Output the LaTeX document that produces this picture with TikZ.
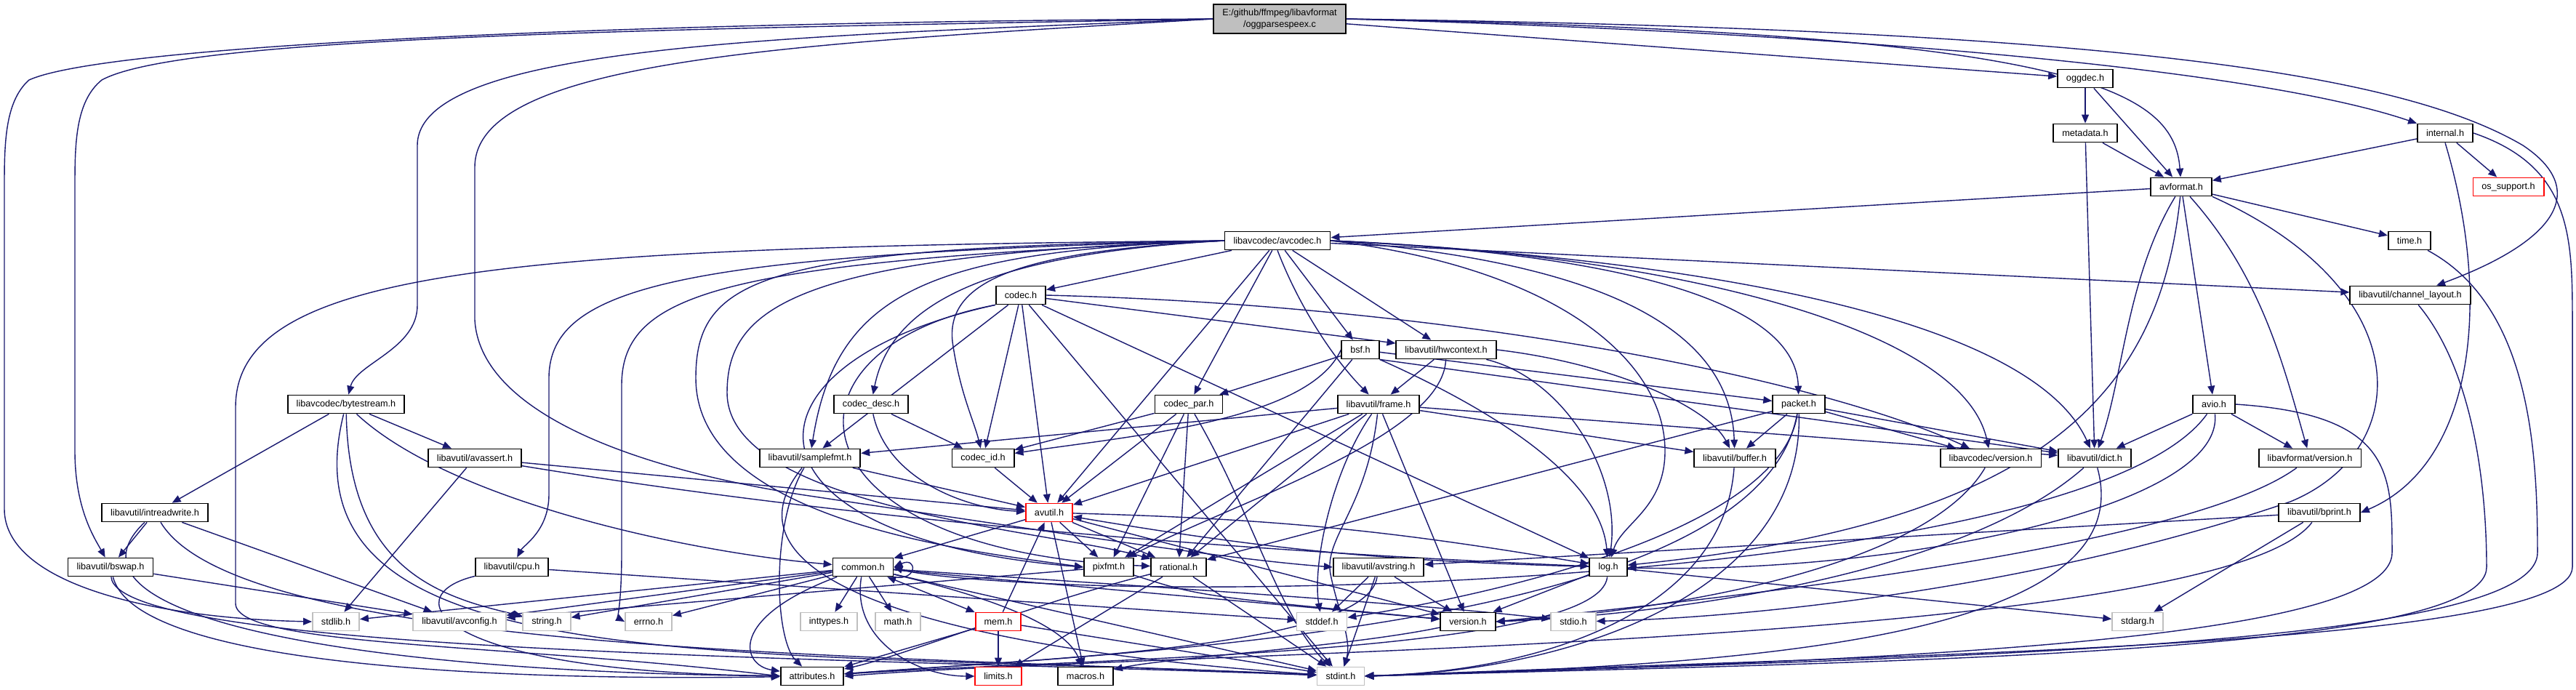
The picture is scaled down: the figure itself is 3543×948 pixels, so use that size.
\documentclass[tikz,border=0pt]{standalone}
\usepackage{fontspec}
\usetikzlibrary{arrows.meta}
\newfontfamily\doxfont{Liberation Sans}
\definecolor{edgeblue}{HTML}{191970}
\definecolor{sysgray}{HTML}{BFBFBF}
\definecolor{rootgray}{HTML}{BFBFBF}
\pgfdeclarelayer{edges}
\pgfsetlayers{edges,main}

\begin{document}
\begin{tikzpicture}[x=0.01cm, y=-0.01cm,
    hdr/.style={draw=black, fill=white, line width=0.5pt, inner xsep=0.12cm, inner ysep=0pt,
      minimum height=0.25cm, font=\doxfont\fontsize{3.6}{4.4}\selectfont},
    sys/.style={hdr, draw=sysgray},
    trunc/.style={hdr, draw=red},
    inc/.style={draw=edgeblue, line width=0.4pt, -{Triangle[length=3.4pt,width=2.8pt]}},
    incboth/.style={inc, {Triangle[length=3.4pt,width=2.8pt]}-{Triangle[length=3.4pt,width=2.8pt]}}]
  \useasboundingbox (0,0) rectangle (3543,948);

  % headers, one row per rank
  \node[hdr, fill=rootgray, align=center, minimum height=0.4cm] (root) at (1760,26) {E:/github/ffmpeg/libavformat\\/oggparsespeex.c};
  \node[hdr] (oggdec) at (2868,108) {oggdec.h};
  \node[hdr] (metadata) at (2868,183) {metadata.h};
  \node[hdr] (internal) at (3363,183) {internal.h};
  \node[hdr] (avformat) at (3000,257) {avformat.h};
  \node[trunc] (ossupport) at (3450,257) {os\_support.h};
  \node[hdr] (avcodec) at (1757,331) {libavcodec/avcodec.h};
  \node[hdr] (timeh) at (3314,331) {time.h};
  \node[hdr] (chlayout) at (3315,406) {libavutil/channel\_layout.h};
  \node[hdr] (codec) at (1404,406) {codec.h};
  \node[hdr] (bsf) at (1871,481) {bsf.h};
  \node[hdr] (hwctx) at (1989,481) {libavutil/hwcontext.h};
  \node[hdr] (bytestream) at (476,556) {libavcodec/bytestream.h};
  \node[hdr] (codecdesc) at (1198,556) {codec\_desc.h};
  \node[hdr] (codecpar) at (1635,556) {codec\_par.h};
  \node[hdr] (frame) at (1896,556) {libavutil/frame.h};
  \node[hdr] (packet) at (2474,556) {packet.h};
  \node[hdr] (avio) at (3045,556) {avio.h};
  \node[hdr] (avassert) at (653,630) {libavutil/avassert.h};
  \node[hdr] (samplefmt) at (1114,630) {libavutil/samplefmt.h};
  \node[hdr] (codecid) at (1352,630) {codec\_id.h};
  \node[hdr] (buffer) at (2386,630) {libavutil/buffer.h};
  \node[hdr] (lavcversion) at (2738,630) {libavcodec/version.h};
  \node[hdr] (dict) at (2881,630) {libavutil/dict.h};
  \node[hdr] (lavfversion) at (3177,630) {libavformat/version.h};
  \node[hdr] (intreadwrite) at (213,705) {libavutil/intreadwrite.h};
  \node[trunc] (avutil) at (1443,705) {avutil.h};
  \node[hdr] (bprint) at (3190,705) {libavutil/bprint.h};
  \node[hdr] (bswap) at (152,780) {libavutil/bswap.h};
  \node[hdr] (cpu) at (704,780) {libavutil/cpu.h};
  \node[hdr] (common) at (1187,780) {common.h};
  \node[hdr] (pixfmt) at (1525,780) {pixfmt.h};
  \node[hdr] (rational) at (1621,780) {rational.h};
  \node[hdr] (avstring) at (1896,780) {libavutil/avstring.h};
  \node[hdr] (log) at (2212,780) {log.h};
  \node[sys] (stdlib) at (462,855) {stdlib.h};
  \node[sys] (avconfig) at (632,855) {libavutil/avconfig.h};
  \node[sys] (string) at (752,855) {string.h};
  \node[sys] (errno) at (892,855) {errno.h};
  \node[sys] (inttypes) at (1140,855) {inttypes.h};
  \node[sys] (math) at (1235,855) {math.h};
  \node[trunc] (mem) at (1373,855) {mem.h};
  \node[sys] (stddef) at (1818,855) {stddef.h};
  \node[hdr] (version) at (2019,855) {version.h};
  \node[sys] (stdio) at (2164,855) {stdio.h};
  \node[sys] (stdarg) at (2940,855) {stdarg.h};
  \node[hdr] (attributes) at (1117,930) {attributes.h};
  \node[trunc] (limits) at (1373,930) {limits.h};
  \node[hdr] (macros) at (1493,930) {macros.h};
  \node[sys] (stdint) at (1844,930) {stdint.h};

  \begin{pgfonlayer}{edges}
  \fill[white] (0,0) rectangle (3543,948);

  % root file
  \draw[inc] (root) -- (oggdec);
  \draw[inc] (root.east) .. controls (2850,45) and (2990,120) .. (avformat);
  \draw[inc] (root.east) .. controls (2700,50) and (3150,110) .. (internal);
  \draw[inc] (root.east) .. controls (2900,40) and (3300,100) .. (3470,200) .. controls (3560,260) and (3520,330) .. (chlayout);
  \draw[inc] (root.west) .. controls (900,30) and (150,60) .. (40,110) .. controls (6,140) and (6,200) .. (6,260) -- (6,700) .. controls (6,800) and (200,850) .. (stdlib.west);
  \draw[inc] (root.west) .. controls (900,40) and (250,50) .. (140,110) .. controls (103,140) and (103,200) .. (103,260) -- (103,620) .. controls (103,700) and (130,740) .. (bswap);
  \draw[inc] (root.west) .. controls (1100,50) and (574,60) .. (574,200) -- (574,420) .. controls (574,480) and (490,500) .. (bytestream);
  \draw[inc] (root.west) .. controls (1100,60) and (653,80) .. (653,230) -- (653,440) .. controls (660,560) and (850,640) .. (1100,680) .. controls (1500,740) and (1700,770) .. (avstring.west);

  % libavformat
  \draw[inc] (oggdec) -- (metadata);
  \draw[inc] (oggdec) -- (avformat);
  \draw[inc] (metadata) -- (avformat);
  \draw[inc] (metadata) -- (dict);
  \draw[inc] (internal) -- (avformat);
  \draw[inc] (internal) -- (ossupport);
  \draw[inc] (internal.south) .. controls (3430,420) and (3400,640) .. (bprint.east);
  \draw[inc] (internal.east) .. controls (3540,230) and (3538,330) .. (3538,450) -- (3538,780) .. controls (3538,890) and (2600,900) .. (stdint.east);
  \draw[inc] (avformat) -- (avcodec);
  \draw[inc] (avformat) -- (timeh);
  \draw[inc] (avformat) -- (avio);
  \draw[inc] (avformat) .. controls (2925,380) and (2920,520) .. (dict);
  \draw[inc] (avformat) .. controls (3110,380) and (3140,500) .. (lavfversion);
  \draw[inc] (avformat) .. controls (2970,550) and (2800,720) .. (log);
  \draw[inc] (avformat.south east) .. controls (3330,400) and (3320,620) .. (3150,690) .. controls (2800,810) and (2400,850) .. (stdio);
  \draw[inc] (timeh) .. controls (3480,420) and (3490,620) .. (3490,760) .. controls (3490,895) and (2600,905) .. (stdint.east);
  \draw[inc] (chlayout) .. controls (3410,520) and (3420,700) .. (3420,780) .. controls (3420,900) and (2600,910) .. (stdint.east);
  \draw[inc] (avio) -- (dict);
  \draw[inc] (avio) -- (lavfversion);
  \draw[inc] (avio) .. controls (2900,760) and (2000,820) .. (1500,805) .. controls (1350,800) and (1260,790) .. (common.east);
  \draw[inc] (avio) .. controls (3060,700) and (2600,790) .. (log);
  \draw[inc] (avio.east) .. controls (3290,570) and (3290,650) .. (3290,760) .. controls (3290,890) and (2500,910) .. (stdint.east);
  \draw[inc] (lavfversion) .. controls (3000,760) and (2300,830) .. (version.east);
  \draw[inc] (lavcversion) .. controls (2650,780) and (2300,840) .. (version.east);
  \draw[inc] (dict) .. controls (2700,790) and (2300,845) .. (version.east);
  \draw[inc] (dict) .. controls (2950,880) and (2400,915) .. (stdint.east);
  \draw[inc] (bprint) -- (stdarg);
  \draw[inc] (bprint) -- (avstring);
  \draw[inc] (bprint) .. controls (3050,890) and (1600,895) .. (attributes.east);

  % libavcodec
  \draw[inc] (avcodec) -- (codec);
  \draw[inc] (avcodec) -- (bsf);
  \draw[inc] (avcodec) -- (hwctx);
  \draw[inc] (avcodec) -- (chlayout);
  \draw[inc] (avcodec) -- (codecpar);
  \draw[inc] (avcodec) -- (avutil);
  \draw[inc] (avcodec.south) .. controls (1790,430) and (1840,500) .. (frame);
  \draw[inc] (avcodec.east) .. controls (2250,350) and (2470,420) .. (packet);
  \draw[inc] (avcodec.east) .. controls (2200,360) and (2380,450) .. (buffer);
  \draw[inc] (avcodec.east) .. controls (2400,360) and (2800,450) .. (dict);
  \draw[inc] (avcodec.east) .. controls (2300,350) and (2700,450) .. (lavcversion);
  \draw[inc] (avcodec.east) .. controls (2150,370) and (2290,500) .. (2290,620) .. controls (2290,700) and (2230,720) .. (log);
  \draw[inc] (avcodec.west) .. controls (1420,345) and (1300,380) .. (1310,470) .. controls (1320,540) and (1340,580) .. (codecid);
  \draw[inc] (avcodec.west) .. controls (1350,350) and (1225,420) .. (codecdesc);
  \draw[inc] (avcodec.west) .. controls (1280,345) and (1150,400) .. (samplefmt);
  \draw[inc] (avcodec.west) .. controls (1050,340) and (957,380) .. (957,520) .. controls (957,720) and (1350,760) .. (pixfmt.west);
  \draw[inc] (avcodec.west) .. controls (1100,350) and (1000,420) .. (1000,540) .. controls (1000,700) and (1450,730) .. (rational);
  \draw[inc] (avcodec.west) .. controls (950,350) and (755,390) .. (755,520) -- (755,680) .. controls (755,730) and (720,750) .. (cpu);
  \draw[inc] (avcodec.west) .. controls (1000,360) and (855,400) .. (855,530) -- (855,760) .. controls (855,820) and (850,850) .. (errno.west);
  \draw[inc] (avcodec.west) .. controls (700,340) and (324,370) .. (324,560) -- (324,830) .. controls (324,890) and (700,885) .. (attributes.west);
  \draw[inc] (codec) -- (hwctx);
  \draw[inc] (codec) -- (avutil);
  \draw[inc] (codec) -- (codecid);
  \draw[inc] (codec) -- (samplefmt);
  \draw[inc] (codec) -- (stdint);
  \draw[inc] (codec) -- (log);
  \draw[inc] (codec.east) .. controls (2000,420) and (2500,520) .. (lavcversion);
  \draw[inc] (codec.south west) .. controls (1000,500) and (1000,740) .. (pixfmt.west);
  \draw[inc] (codec.south west) .. controls (1050,480) and (1080,760) .. (rational);
  \draw[inc] (bsf) -- (codecpar);
  \draw[inc] (bsf) -- (packet);
  \draw[inc] (bsf.south east) -- (dict);
  \draw[inc] (bsf) -- (rational);
  \draw[inc] (bsf.west) .. controls (1800,580) and (1550,600) .. (codecid);
  \draw[inc] (bsf.south east) .. controls (2000,540) and (2200,640) .. (log);
  \draw[inc] (hwctx) -- (frame);
  \draw[inc] (hwctx.east) .. controls (2220,500) and (2350,560) .. (buffer);
  \draw[inc] (hwctx) .. controls (2150,520) and (2230,650) .. (log);
  \draw[inc] (hwctx) .. controls (1985,600) and (1700,690) .. (pixfmt);
  \draw[inc] (bytestream) -- (intreadwrite);
  \draw[inc] (bytestream) -- (avassert);
  \draw[inc] (bytestream) .. controls (380,940) and (1000,890) .. (stdint);
  \draw[inc] (bytestream) .. controls (480,780) and (600,820) .. (string);
  \draw[inc] (bytestream) .. controls (620,690) and (950,760) .. (common);
  \draw[inc] (codecdesc) -- (codecid);
  \draw[inc] (codecdesc) .. controls (1220,660) and (1330,700) .. (avutil);
  \draw[inc] (codecpar) -- (codecid);
  \draw[inc] (codecpar) -- (avutil);
  \draw[inc] (codecpar) -- (pixfmt);
  \draw[inc] (codecpar) -- (rational);
  \draw[inc] (codecpar) .. controls (1720,700) and (1760,850) .. (stdint);
  \draw[inc] (packet) -- (buffer);
  \draw[inc] (packet) -- (lavcversion);
  \draw[inc] (packet) -- (dict);
  \draw[inc] (packet) -- (rational);
  \draw[inc] (packet) .. controls (2450,720) and (2100,810) .. (stddef);
  \draw[inc] (packet) .. controls (2480,820) and (2150,925) .. (stdint);
  \draw[inc] (packet) .. controls (2420,860) and (1600,895) .. (attributes);
  \draw[inc] (codecid) -- (avutil);

  % libavutil
  \draw[inc] (frame) -- (buffer);
  \draw[inc] (frame) -- (dict);
  \draw[inc] (frame) -- (samplefmt);
  \draw[inc] (frame) -- (avutil);
  \draw[inc] (frame) -- (rational);
  \draw[inc] (frame) -- (pixfmt);
  \draw[inc] (frame) -- (version);
  \draw[inc] (frame) .. controls (1830,650) and (1805,780) .. (stddef);
  \draw[inc] (frame) .. controls (1880,700) and (1820,740) .. (1830,790) .. controls (1840,840) and (1860,880) .. (stdint);
  \draw[inc] (avassert) -- (stdlib);
  \draw[inc] (avassert) -- (avutil);
  \draw[inc] (avassert) .. controls (1200,720) and (1750,760) .. (log);
  \draw[inc] (samplefmt) -- (avutil);
  \draw[inc] (samplefmt) .. controls (1060,720) and (1065,880) .. (attributes);
  \draw[inc] (samplefmt) .. controls (960,820) and (1400,900) .. (stdint);
  \draw[inc] (buffer) .. controls (2370,850) and (2100,925) .. (stdint);
  \draw[inc] (intreadwrite) -- (bswap);
  \draw[inc] (intreadwrite) -- (avconfig);
  \draw[inc] (intreadwrite) .. controls (330,900) and (1200,900) .. (stdint);
  \draw[inc] (intreadwrite) .. controls (60,850) and (500,925) .. (attributes);
  \draw[inc] (avutil) -- (common);
  \draw[inc] (avutil) -- (pixfmt);
  \draw[inc] (avutil) -- (rational);
  \draw[inc] (avutil) -- (macros);
  \draw[inc] (avutil) -- (version);
  \draw[inc] (avutil) to[bend left=4] (log);
  \draw[inc] (log) to[bend left=4] (avutil);
  \draw[inc] (bswap) -- (avconfig);
  \draw[inc] (bswap) .. controls (160,900) and (1200,905) .. (stdint);
  \draw[inc] (bswap) .. controls (190,930) and (800,935) .. (attributes);
  \draw[inc] (cpu) -- (stddef);
  \draw[inc] (cpu) .. controls (540,820) and (600,925) .. (attributes);
  \draw[inc] (common) -- (errno);
  \draw[inc] (common) -- (inttypes);
  \draw[inc] (common) -- (math);
  \draw[incboth] (common) -- (mem);
  \draw[inc] (common) -- (stdlib);
  \draw[inc] (common) -- (string);
  \draw[inc] (common) -- (avconfig);
  \draw[inc] (common) -- (stdint);
  \draw[inc] (common) -- (version);
  \draw[inc] (common) .. controls (1550,805) and (1950,830) .. (stdio);
  \draw[inc] (common) .. controls (1000,850) and (1020,915) .. (attributes);
  \draw[inc] (common) .. controls (1400,830) and (1470,870) .. (macros);
  \draw[inc] (common) .. controls (1170,880) and (1260,930) .. (limits);
  \draw[inc] (common.south east) .. controls (1262,800) and (1262,765) .. (common.east);
  \draw[inc] (pixfmt) -- (avconfig);
  \draw[inc] (pixfmt) .. controls (1650,820) .. (version);
  \draw[inc] (rational) -- (stdint);
  \draw[inc] (rational) -- (limits);
  \draw[inc] (rational) .. controls (1420,830) and (1250,900) .. (attributes);
  \draw[inc] (avstring) -- (stddef);
  \draw[inc] (avstring) -- (stdint);
  \draw[inc] (avstring) -- (version);
  \draw[inc] (avstring) .. controls (1880,890) and (1450,905) .. (attributes);
  \draw[inc] (log) -- (stdarg);
  \draw[inc] (log) -- (version);
  \draw[inc] (log) .. controls (2200,900) and (1500,905) .. (attributes);
  \draw[inc] (mem) -- (limits);
  \draw[inc] (mem) -- (avutil);
  \draw[inc] (mem) -- (attributes);
  \draw[inc] (mem) -- (stdint);
  \draw[inc] (version) .. controls (1850,890) and (1600,905) .. (macros);
  \end{pgfonlayer}
\end{tikzpicture}
\end{document}
